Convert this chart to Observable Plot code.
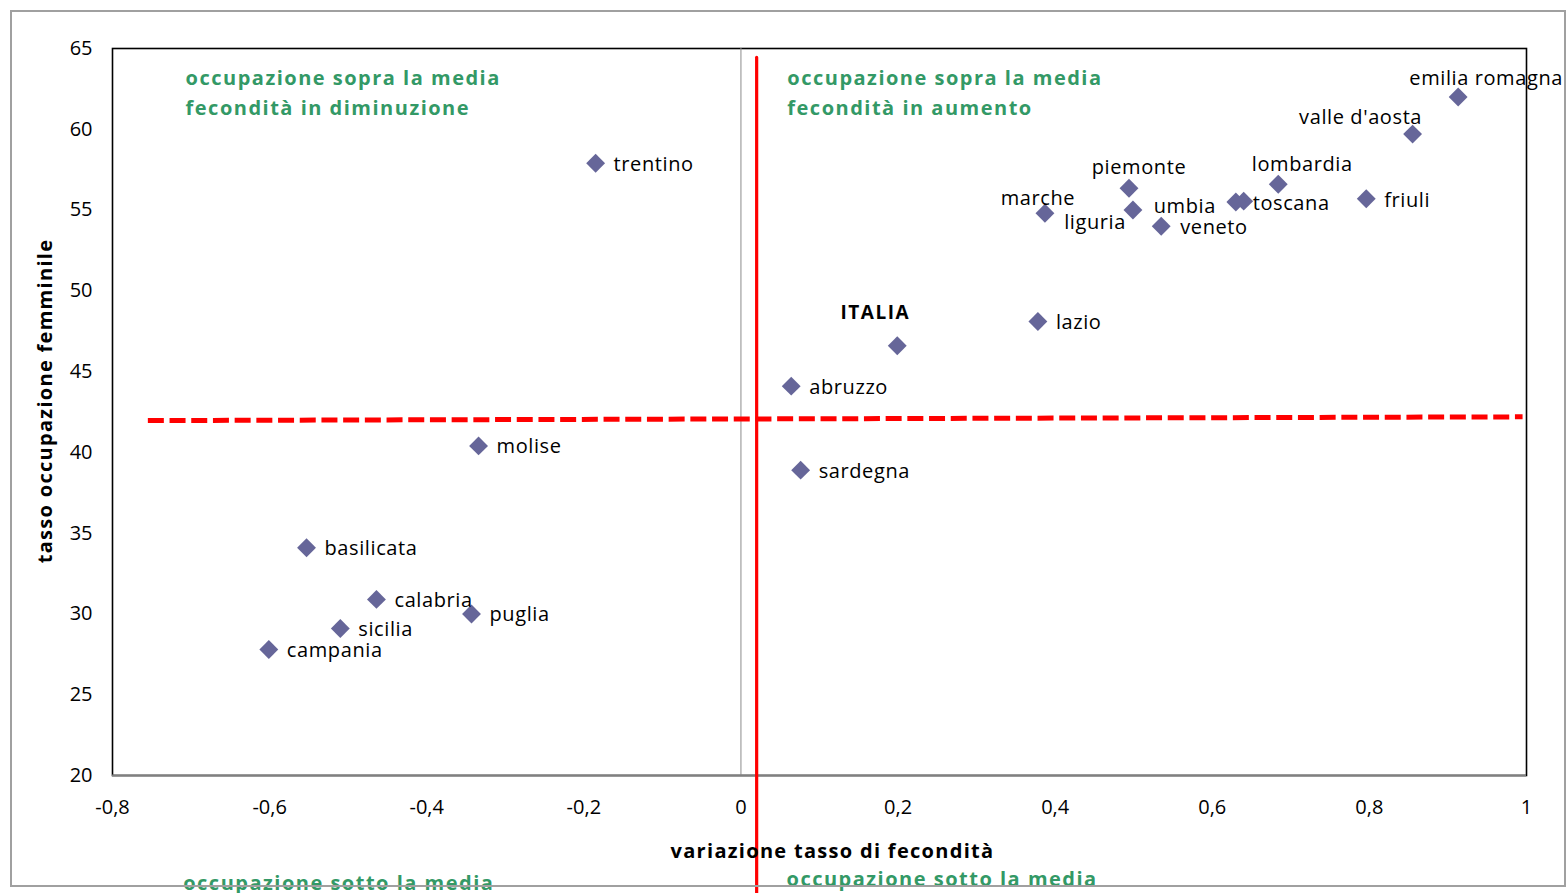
<!DOCTYPE html>
<html>
<head>
<meta charset="utf-8">
<script src="https://cdn.jsdelivr.net/npm/d3@7"></script>
<script src="https://cdn.jsdelivr.net/npm/@observablehq/plot@0.6"></script>
<style>
  body { margin: 0; background: #fff; }
  #chart { position: relative; width: 1567px; height: 893px; overflow: hidden; }
  #chart svg { display: block; }
  #border { position: absolute; left: 10px; top: 10px; width: 1552px; height: 873px;
            border: 2px solid #a0a0a0; pointer-events: none; }
</style>
</head>
<body>
<div id="chart"></div>
<script>
// Regional labels, change in fertility rate, female employment rate
const regions = [
  "emilia romagna", "valle d'aosta", "lombardia", "friuli", "toscana", "umbia",
  "piemonte", "liguria", "veneto", "marche", "lazio", "ITALIA", "abruzzo",
  "sardegna", "trentino", "molise", "basilicata", "calabria", "puglia",
  "sicilia", "campania"
];
const fertilityChange = [
  0.913, 0.855, 0.684, 0.796, 0.640, 0.630,
  0.494, 0.499, 0.535, 0.387, 0.378, 0.199, 0.064,
  0.076, -0.185, -0.334, -0.553, -0.464, -0.343,
  -0.510, -0.601
];
const femaleEmployment = [
  62.0, 59.7, 56.6, 55.7, 55.55, 55.5,
  56.35, 55.0, 54.0, 54.8, 48.1, 46.6, 44.1,
  38.9, 57.9, 40.4, 34.1, 30.9, 30.0,
  29.1, 27.8
];

// Reference lines: average employment (dashed) and fertility threshold (solid)
const employmentMeanLine = [{x: -0.755, y: 41.97}, {x: 0.995, y: 42.2}];
const fertilityThresholdLine = [{x: 0.02, y: 64.45}, {x: 0.02, y: 12}];

// Axis ticks
const xTicks = [-0.8, -0.6, -0.4, -0.2, 0, 0.2, 0.4, 0.6, 0.8, 1];
const yTicks = [20, 25, 30, 35, 40, 45, 50, 55, 60, 65];

// Axis titles
const xTitle = "variazione tasso di fecondità";
const yTitle = "tasso occupazione femminile";

// Quadrant notes
const noteLines = [
  "occupazione sopra la media", "fecondità in diminuzione",
  "occupazione sopra la media", "fecondità in aumento",
  "occupazione sotto la media", "occupazione sotto la media"
];
const noteX = [-0.707, -0.707, 0.059, 0.059, -0.710, 0.058];
const noteY = [63.14, 61.29, 63.14, 61.29, 13.32, 13.57];

const points = regions.map((name, i) => ({name, x: fertilityChange[i], y: femaleEmployment[i]}));
const notes = noteLines.map((text, i) => ({text, x: noteX[i], y: noteY[i]}));

// Label placement relative to each marker: [textAnchor, dx, dy]
const placement = {
  "emilia romagna": ["middle", 28, -18],
  "valle d'aosta": ["middle", -52, -17],
  "lombardia": ["middle", 24, -20],
  "friuli": ["start", 18, 2],
  "toscana": ["start", 9, 2],
  "umbia": ["middle", -51, 5],
  "piemonte": ["middle", 10, -21],
  "liguria": ["end", -7, 13],
  "veneto": ["start", 19, 1],
  "marche": ["middle", -7, -15],
  "ITALIA": ["middle", -22, -33]
};

const labelMarks = points.map(p => {
  const [anchor, dx, dy] = placement[p.name] || ["start", 18, 1];
  const bold = p.name === "ITALIA";
  return Plot.text([p], {
    x: "x", y: "y", text: "name",
    textAnchor: anchor, dx, dy, lineAnchor: "middle",
    fontSize: bold ? 19 : 20, fontWeight: bold ? "bold" : "normal",
    fill: "#000", clip: false
  });
});

const fmt = d => String(d).replace(".", ",");

const chart = Plot.plot({
  width: 1567,
  height: 893,
  marginLeft: 112,
  marginRight: 41,
  marginTop: 48,
  marginBottom: 118,
  style: {fontFamily: "'Open Sans', sans-serif", fontSize: "20px", color: "#000", background: "#fff"},
  x: {domain: [-0.8, 1]},
  y: {domain: [20, 65]},
  marks: [
    Plot.frame({stroke: "#000", strokeWidth: 1.6}),
    Plot.ruleX([0], {stroke: "#8c8c8c", strokeWidth: 1}),
    Plot.ruleY([20], {stroke: "#808080", strokeWidth: 2.2}),
    Plot.axisX({ticks: xTicks, tickFormat: fmt, tickSize: 0, tickPadding: 24, fontSize: 20, label: null}),
    Plot.axisY({ticks: yTicks, tickSize: 0, tickPadding: 20, fontSize: 20, label: null}),
    Plot.line(employmentMeanLine, {x: "x", y: "y", stroke: "#ff0000", strokeWidth: 5,
      strokeDasharray: "16 5.7", strokeLinecap: "butt", clip: false}),
    Plot.line(fertilityThresholdLine, {x: "x", y: "y", stroke: "#ff0000", strokeWidth: 3.2, clip: false}),
    Plot.dot(points, {x: "x", y: "y", symbol: "diamond2", r: 8.5, fill: "#666699", stroke: null}),
    ...labelMarks,
    Plot.text(notes, {x: "x", y: "y", text: "text", textAnchor: "start", lineAnchor: "middle",
      fill: "#339966", fontWeight: "bold", fontSize: 20, clip: false}),
    Plot.text([yTitle], {frameAnchor: "left", textAnchor: "middle", rotate: -90, dx: -67, dy: -11,
      fontWeight: "bold", fontSize: 20, fill: "#000"}),
    Plot.text([xTitle], {frameAnchor: "bottom", textAnchor: "middle", dx: 13, dy: 76,
      lineAnchor: "middle", fontWeight: "bold", fontSize: 20, fill: "#000"})
  ]
});

// Letter spacing for the bold annotations and the region labels
const svg = d3.select(chart);
svg.selectAll("text").each(function() {
  const t = this.textContent;
  if (noteLines.includes(t)) this.setAttribute("letter-spacing", "1.5px");
  else if (t === xTitle || t === yTitle) this.setAttribute("letter-spacing", "1.3px");
  else if (t === "ITALIA") this.setAttribute("letter-spacing", "1.5px");
  else if (regions.includes(t)) this.setAttribute("letter-spacing", "0.6px");
});

const host = document.getElementById("chart");
host.appendChild(chart);
const border = document.createElement("div");
border.id = "border";
host.appendChild(border);
</script>
</body>
</html>
